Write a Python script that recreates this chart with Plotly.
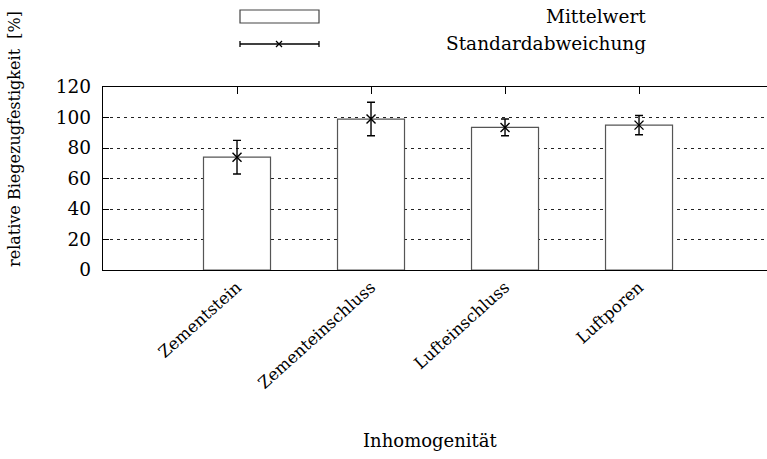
import plotly.graph_objects as go

categories = ["Zementstein", "Zementeinschluss", "Lufteinschluss", "Luftporen"]
mean_values = [74, 99, 93.5, 95]
std_values = [11, 11, 5.5, 6.3]
y_ticks = [0, 20, 40, 60, 80, 100, 120]

FONT = "DejaVu Serif"
xpos = list(range(len(categories)))

fig = go.Figure()
fig.add_trace(go.Bar(
    x=xpos, y=mean_values, width=0.5,
    marker=dict(color="white", line=dict(color="#555555", width=1.2)),
    showlegend=False,
))
fig.add_trace(go.Scatter(
    x=xpos, y=mean_values, mode="markers",
    marker=dict(symbol="x-thin", size=9, line=dict(color="black", width=1.4), color="black"),
    error_y=dict(type="data", array=std_values, visible=True, color="black", thickness=1.4, width=4),
    showlegend=False,
))
# hidden trace for top ticks axis
fig.add_trace(go.Scatter(x=xpos, y=mean_values, xaxis="x2", mode="markers",
                         marker=dict(opacity=0), showlegend=False, hoverinfo="skip"))

fig.update_layout(
    width=767, height=459,
    margin=dict(l=103, r=0, t=87, b=189),
    paper_bgcolor="white", plot_bgcolor="white",
    font=dict(family=FONT, size=17, color="black"),
    xaxis=dict(
        range=[-1, 3.955], tickvals=xpos, ticktext=categories,
        tickangle=-42, ticks="", showline=True, linecolor="black", linewidth=1.3,
        mirror=True, showgrid=False, zeroline=False,
        tickfont=dict(family=FONT, size=16.5),
    ),
    xaxis2=dict(
        range=[-1, 3.955], overlaying="x", side="top", tickvals=xpos,
        ticks="inside", ticklen=7, tickcolor="black", tickwidth=1.2,
        showticklabels=False, showgrid=False, zeroline=False, showline=False,
    ),
    yaxis=dict(
        range=[0, 120], tickvals=y_ticks, showline=True, linecolor="black", linewidth=1.3,
        ticks="inside", ticklen=6, tickcolor="black",
        showgrid=True, gridcolor="#222222", gridwidth=1, griddash="3px,4px",
        zeroline=False, tickfont=dict(family=FONT, size=18.5), ticklabelstandoff=7,
    ),
    bargap=0.5,
)

# x and y axis titles
fig.add_annotation(text="Inhomogenität", xref="paper", yref="paper", x=0.4925, y=-0.934,
                   showarrow=False, font=dict(family=FONT, size=18), xanchor="center", yanchor="middle")
fig.add_annotation(text="relative Biegezugfestigkeit  [%]", xref="paper", yref="paper",
                   x=-0.1325, y=0.716, textangle=-90, showarrow=False,
                   font=dict(family=FONT, size=16), xanchor="center", yanchor="middle")

# legend (gnuplot style)
def px(x):
    return (x - 103) / 664

def py(y):
    return (270 - y) / 183

fig.add_shape(type="rect", xref="paper", yref="paper", x0=px(240), x1=px(319), y0=py(23), y1=py(10),
              line=dict(color="#444444", width=1.2), fillcolor="white")
fig.add_annotation(text="Mittelwert", xref="paper", yref="paper", x=px(648), y=py(16),
                   xanchor="right", yanchor="middle", showarrow=False, font=dict(family=FONT, size=18.5))
fig.add_shape(type="line", xref="paper", yref="paper", x0=px(240), x1=px(319), y0=py(44), y1=py(44),
              line=dict(color="black", width=1.3))
for xe in (240, 319):
    fig.add_shape(type="line", xref="paper", yref="paper", x0=px(xe), x1=px(xe), y0=py(41), y1=py(47),
                  line=dict(color="black", width=1.3))
for dx, dy in ((-3, -3), (-3, 3)):
    fig.add_shape(type="line", xref="paper", yref="paper", x0=px(279 + dx), x1=px(279 - dx),
                  y0=py(44 + dy), y1=py(44 - dy), line=dict(color="black", width=1.3))
fig.add_annotation(text="Standardabweichung", xref="paper", yref="paper", x=px(648), y=py(44),
                   xanchor="right", yanchor="middle", showarrow=False, font=dict(family=FONT, size=18.5))

fig.write_html("out.html")
